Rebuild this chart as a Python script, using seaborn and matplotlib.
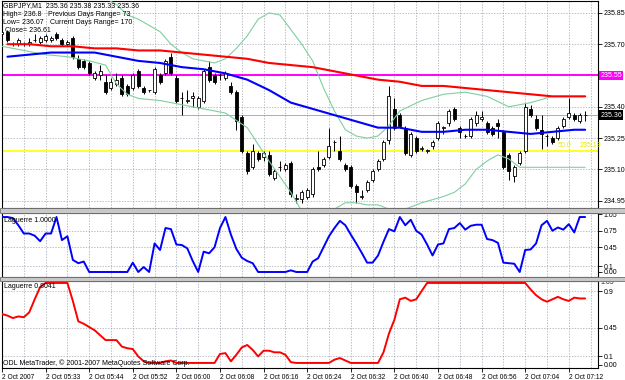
import numpy as np
import pandas as pd
import seaborn as sns
import matplotlib.pyplot as plt
from matplotlib.patches import Rectangle

sns.set_theme(style='white')
plt.rcParams['font.family'] = ['Liberation Sans', 'DejaVu Sans']

# GBPJPY M1 bars
opens = [
    235.75, 235.76, 235.70, 235.70, 235.70, 235.70, 235.72, 235.71, 235.72, 235.72,
    235.75, 235.72, 235.70, 235.73, 235.63, 235.62, 235.61, 235.54, 235.55, 235.52,
    235.49, 235.51, 235.54, 235.50, 235.49, 235.57, 235.49, 235.48, 235.47, 235.55,
    235.56, 235.64, 235.54, 235.44, 235.43, 235.44, 235.40, 235.43, 235.59, 235.55,
    235.55, 235.54, 235.50, 235.47, 235.35, 235.18, 235.11, 235.18, 235.16, 235.17,
    235.06, 235.11, 235.10, 235.13, 234.96, 234.96, 234.97, 234.98, 235.11, 235.12,
    235.16, 235.23, 235.19, 235.12, 235.11, 235.02, 234.97, 235.00, 235.05, 235.10,
    235.15, 235.24, 235.39, 235.36, 235.30, 235.17, 235.25, 235.20, 235.19, 235.21,
    235.25, 235.30, 235.32, 235.39, 235.30, 235.26, 235.26, 235.32, 235.34, 235.32,
    235.30, 235.32, 235.28, 235.17, 235.07, 235.13, 235.19, 235.39, 235.34, 235.29,
    235.26, 235.25, 235.25, 235.31, 235.35, 235.36, 235.33, 235.36]
highs = [
    235.77, 235.77, 235.71, 235.73, 235.71, 235.73, 235.75, 235.74, 235.75, 235.74,
    235.76, 235.73, 235.72, 235.74, 235.65, 235.63, 235.62, 235.57, 235.60, 235.55,
    235.54, 235.56, 235.55, 235.51, 235.56, 235.58, 235.50, 235.48, 235.59, 235.56,
    235.63, 235.66, 235.55, 235.47, 235.48, 235.47, 235.45, 235.58, 235.62, 235.56,
    235.56, 235.57, 235.52, 235.48, 235.36, 235.19, 235.22, 235.19, 235.19, 235.19,
    235.10, 235.14, 235.13, 235.14, 234.98, 235.00, 235.01, 235.11, 235.19, 235.16,
    235.30, 235.24, 235.26, 235.13, 235.12, 235.03, 235.00, 235.05, 235.10, 235.15,
    235.24, 235.50, 235.44, 235.37, 235.31, 235.28, 235.26, 235.21, 235.20, 235.24,
    235.33, 235.31, 235.39, 235.40, 235.31, 235.27, 235.35, 235.38, 235.38, 235.33,
    235.31, 235.34, 235.29, 235.18, 235.12, 235.19, 235.42, 235.41, 235.36, 235.36,
    235.27, 235.26, 235.31, 235.35, 235.44, 235.37, 235.37, 235.38]
lows = [
    235.74, 235.71, 235.69, 235.69, 235.69, 235.69, 235.71, 235.70, 235.71, 235.71,
    235.72, 235.69, 235.69, 235.63, 235.58, 235.58, 235.55, 235.53, 235.53, 235.46,
    235.48, 235.50, 235.45, 235.45, 235.48, 235.49, 235.46, 235.47, 235.46, 235.51,
    235.55, 235.55, 235.42, 235.36, 235.42, 235.40, 235.39, 235.42, 235.52, 235.51,
    235.53, 235.53, 235.46, 235.29, 235.18, 235.08, 235.10, 235.14, 235.14, 235.07,
    235.05, 235.09, 235.09, 234.97, 234.94, 234.94, 234.96, 234.97, 235.09, 235.11,
    235.15, 235.19, 235.14, 235.09, 235.01, 234.94, 234.96, 234.99, 235.04, 235.09,
    235.14, 235.22, 235.29, 235.30, 235.17, 235.16, 235.18, 235.19, 235.18, 235.20,
    235.24, 235.27, 235.31, 235.33, 235.25, 235.25, 235.25, 235.31, 235.33, 235.27,
    235.26, 235.25, 235.10, 235.05, 235.04, 235.12, 235.18, 235.35, 235.29, 235.20,
    235.21, 235.22, 235.24, 235.30, 235.34, 235.33, 235.32, 235.33]
closes = [
    235.76, 235.72, 235.70, 235.72, 235.70, 235.71, 235.72, 235.73, 235.74, 235.73,
    235.73, 235.70, 235.71, 235.64, 235.59, 235.59, 235.56, 235.56, 235.57, 235.47,
    235.52, 235.53, 235.46, 235.46, 235.55, 235.50, 235.47, 235.48, 235.58, 235.52,
    235.62, 235.56, 235.43, 235.44, 235.43, 235.45, 235.44, 235.57, 235.53, 235.52,
    235.55, 235.56, 235.47, 235.33, 235.19, 235.09, 235.19, 235.15, 235.18, 235.08,
    235.09, 235.11, 235.12, 234.98, 234.96, 234.99, 235.00, 235.10, 235.10, 235.15,
    235.21, 235.23, 235.15, 235.10, 235.02, 234.99, 234.97, 235.04, 235.09, 235.14,
    235.23, 235.45, 235.30, 235.31, 235.18, 235.27, 235.19, 235.20, 235.19, 235.23,
    235.32, 235.30, 235.38, 235.34, 235.28, 235.26, 235.34, 235.36, 235.35, 235.28,
    235.27, 235.31, 235.11, 235.09, 235.11, 235.18, 235.40, 235.36, 235.30, 235.27,
    235.26, 235.23, 235.30, 235.34, 235.37, 235.34, 235.36, 235.36]

# moving averages, read every fourth bar
ma_idx = [1, 5, 9, 13, 17, 21, 25, 29, 33, 37, 41, 45, 49, 53, 57, 61, 65, 69, 73,
          77, 81, 85, 89, 93, 97, 101, 105, 107]
ma_slow = [235.70, 235.70, 235.69, 235.69, 235.68, 235.68, 235.67, 235.67, 235.66,
           235.65, 235.64, 235.63, 235.61, 235.60, 235.59, 235.57, 235.55, 235.53,
           235.52, 235.50, 235.50, 235.49, 235.48, 235.47, 235.46, 235.45, 235.45, 235.45]
ma_fast = [235.64, 235.65, 235.66, 235.66, 235.66, 235.64, 235.62, 235.61, 235.59,
           235.58, 235.56, 235.53, 235.48, 235.42, 235.39, 235.36, 235.33, 235.30,
           235.30, 235.28, 235.28, 235.29, 235.29, 235.28, 235.27, 235.28, 235.29, 235.29]

# bollinger bands
bb_up_idx = [1, 5, 9, 13, 17, 21, 23, 25, 27, 29, 31, 33, 35, 37, 39, 41, 43, 45, 47,
             49, 51, 53, 55, 57, 59, 61, 63, 65, 67, 69, 71, 73, 77, 81, 85, 89, 93,
             97, 101, 105, 107]
bb_up = [236.01, 236.02, 236.01, 235.98, 235.95, 235.89, 235.84, 235.82, 235.79,
         235.76, 235.70, 235.66, 235.63, 235.62, 235.61, 235.63, 235.68, 235.74,
         235.82, 235.85, 235.84, 235.77, 235.70, 235.62, 235.49, 235.38, 235.29,
         235.26, 235.25, 235.26, 235.31, 235.38, 235.43, 235.46, 235.47, 235.45,
         235.40, 235.42, 235.45, 235.45, 235.45]
bb_lo_idx = [0, 4, 8, 12, 16, 19, 21, 23, 25, 29, 33, 37, 41, 45, 49, 53, 55, 57, 59,
             61, 63, 65, 67, 69, 71, 73, 75, 77, 81, 83, 85, 87, 89, 91, 93, 95, 97,
             101, 105, 107]
bb_lo = [235.69, 235.67, 235.65, 235.64, 235.62, 235.60, 235.51, 235.46, 235.44,
         235.43, 235.41, 235.39, 235.37, 235.30, 235.14, 234.99, 234.90, 234.85,
         234.87, 234.91, 234.94, 234.94, 234.93, 234.93, 234.91, 234.90, 234.92,
         234.94, 234.97, 234.99, 235.03, 235.10, 235.14, 235.17, 235.15, 235.11,
         235.11, 235.11, 235.11, 235.11]

# Laguerre indicators (one value per bar)
lag_blue = [
    1.0, 1.0, 0.98, 0.85, 0.70, 0.70, 0.66, 0.56, 0.70, 0.70,
    1.0, 0.58, 0.65, 0.22, 0.16, 0.19, 0.0, 0.0, 0.0, 0.0,
    0.0, 0.0, 0.0, 0.0, 0.17, 0.0, 0.09, 0.0, 0.52, 0.40,
    0.80, 0.78, 0.50, 0.49, 0.43, 0.20, 0.0, 0.37, 0.34, 0.45,
    0.80, 1.0, 0.68, 0.42, 0.26, 0.20, 0.16, 0.0, 0.0, 0.0,
    0.0, 0.0, 0.0, 0.03, 0.0, 0.0, 0.0, 0.19, 0.25, 0.45,
    0.65, 0.80, 0.93, 0.85, 0.68, 0.52, 0.35, 0.17, 0.17, 0.30,
    0.55, 0.78, 0.74, 1.0, 0.85, 0.95, 0.75, 0.68, 0.50, 0.30,
    0.50, 0.52, 0.78, 0.80, 0.89, 0.77, 0.84, 0.86, 0.86, 0.60,
    0.58, 0.53, 0.17, 0.16, 0.15, 0.0, 0.40, 0.41, 0.52, 0.85,
    0.93, 0.75, 0.81, 0.77, 0.87, 0.72, 1.0, 1.0]
lag_red = [
    0.62, 0.60, 0.57, 0.59, 0.58, 0.64, 0.80, 0.95, 1.0, 1.0,
    1.0, 1.0, 1.0, 0.78, 0.53, 0.50, 0.46, 0.42, 0.36, 0.30,
    0.30, 0.30, 0.22, 0.20, 0.19, 0.10, 0.04, 0.02, 0.02, 0.02,
    0.04, 0.05, 0.02, 0.02, 0.02, 0.02, 0.02, 0.02, 0.02, 0.02,
    0.13, 0.14, 0.04, 0.12, 0.21, 0.24, 0.18, 0.10, 0.17, 0.17,
    0.15, 0.15, 0.12, 0.03, 0.02, 0.02, 0.02, 0.02, 0.02, 0.02,
    0.02, 0.06, 0.08, 0.05, 0.02, 0.02, 0.02, 0.02, 0.02, 0.02,
    0.15, 0.38, 0.55, 0.80, 0.82, 0.78, 0.80, 0.90, 1.0, 1.0,
    1.0, 1.0, 1.0, 1.0, 1.0, 1.0, 1.0, 1.0, 1.0, 1.0,
    1.0, 1.0, 1.0, 1.0, 1.0, 1.0, 1.0, 0.92, 0.85, 0.80,
    0.77, 0.80, 0.83, 0.80, 0.78, 0.82, 0.81, 0.81]

time_labels = ['2 Oct 2007', '2 Oct 05:33', '2 Oct 05:44', '2 Oct 05:52',
               '2 Oct 06:00', '2 Oct 06:08', '2 Oct 06:16', '2 Oct 06:24',
               '2 Oct 06:32', '2 Oct 06:40', '2 Oct 06:48', '2 Oct 06:56',
               '2 Oct 07:04', '2 Oct 07:12']
price_ticks = [234.95, 235.10, 235.25, 235.40, 235.70, 235.85]
pivot_level = 235.55
fibo_level = 235.19
last_price = 235.36
blue_ticks = [0.0, 0.1, 0.45, 0.75, 1.05]
red_ticks = [0.0, 0.1, 0.45, 0.9]

W, H = 625, 380
fig = plt.figure(figsize=(W / 100, H / 100), dpi=100)
fig.patch.set_facecolor('white')


def rect(top, bottom, left=2, right=598):
    return [left / W, 1 - bottom / H, (right - left) / W, (bottom - top) / H]


ax = fig.add_axes(rect(1, 208))
ax1 = fig.add_axes(rect(213, 277), sharex=ax)
ax2 = fig.add_axes(rect(281, 368), sharex=ax)

# separators between windows
for top, bot in [(208, 213), (277, 281)]:
    fig.patches.append(Rectangle((0, 1 - bot / H), 1, (bot - top) / H,
                                 transform=fig.transFigure, facecolor='#c8c8c8',
                                 edgecolor='#707070', lw=0.6, zorder=0))

nbar = len(closes)
grid_kw = dict(color='#9fa3b0', lw=0.5, ls=(0, (2, 2)), zorder=0)
for a in (ax, ax1, ax2):
    a.set_facecolor('white')
    for s in a.spines.values():
        s.set_color('black')
        s.set_linewidth(0.8)
    for gx in range(4, nbar + 2, 4):
        a.axvline(gx, **grid_kw)
    a.tick_params(axis='y', which='both', right=True, left=False, labelright=True,
                  labelleft=False, length=3, width=0.6, pad=1, labelsize=5,
                  colors='black', direction='out')
    a.tick_params(axis='x', bottom=False, labelbottom=False)

# ---- main price window
bars = pd.DataFrame({'o': opens, 'h': highs, 'l': lows, 'c': closes})
bars['i'] = np.arange(nbar)
up = bars.c >= bars.o
for p in price_ticks + [pivot_level]:
    ax.axhline(p, **grid_kw)
ax.axhline(last_price, color='#a0a0a0', lw=0.6, zorder=1)
ax.axhline(pivot_level, color='#ff00ff', lw=1.4, zorder=2)
ax.axhline(fibo_level, color='#ffff00', lw=1.2, zorder=2)

ax.vlines(bars.i, bars.l, bars.h, color='black', lw=0.7, zorder=3)
ax.bar(bars.i, (bars.c - bars.o).abs().clip(lower=0.002),
       bottom=np.minimum(bars.o, bars.c), width=0.55,
       color=np.where(up, 'white', 'black'), edgecolor='black', lw=0.6, zorder=4)

sns.lineplot(x=bb_up_idx, y=bb_up, ax=ax, color='#7fcf9f', lw=0.8, zorder=5)
sns.lineplot(x=bb_lo_idx, y=bb_lo, ax=ax, color='#7fcf9f', lw=0.8, zorder=5)
sns.lineplot(x=ma_idx, y=ma_slow, ax=ax, color='#ff0000', lw=1.5, zorder=6)
sns.lineplot(x=ma_idx, y=ma_fast, ax=ax, color='#0000ff', lw=1.5, zorder=6)

ax.set_ylim(234.915, 235.907)
ax.set_xlim(0, 109.36)
ax.set_yticks(price_ticks)
ax.set_yticklabels([f'{p:.2f}' for p in price_ticks])
ytr = ax.get_yaxis_transform()
ax.text(1.004, pivot_level, f'{pivot_level:.2f}', transform=ytr, ha='left', va='center',
        fontsize=5, color='white', clip_on=False,
        bbox=dict(facecolor='#ff00ff', edgecolor='none', pad=0.9))
ax.text(1.004, last_price, f'{last_price:.2f}', transform=ytr, ha='left', va='center',
        fontsize=5, color='white', clip_on=False,
        bbox=dict(facecolor='black', edgecolor='none', pad=0.9))
ax.text(101.9, fibo_level + 0.008, '50.0', fontsize=5, color='#e8e800',
        ha='left', va='bottom', zorder=7)
ax.text(105.9, fibo_level + 0.008, f'{fibo_level:.2f}', fontsize=5, color='#e8e800',
        ha='left', va='bottom', zorder=7)

# ---- Laguerre windows
idx = np.arange(nbar)
for gy in blue_ticks[1:4]:
    ax1.axhline(gy, **grid_kw)
sns.lineplot(x=idx, y=lag_blue, ax=ax1, color='#0000ff', lw=1.4, zorder=5)
ax1.set_ylim(-0.091, 1.073)
ax1.set_yticks(blue_ticks)
ax1.set_yticklabels(['0.00', '0.1', '0.45', '0.75', '1.05'])

for gy in red_ticks[1:]:
    ax2.axhline(gy, **grid_kw)
sns.lineplot(x=idx, y=lag_red, ax=ax2, color='#ff0000', lw=1.4, zorder=5)
ax2.set_ylim(-0.042, 1.024)
ax2.set_yticks(red_ticks)
ax2.set_yticklabels(['0.00', '0.1', '0.45', '0.9'])
ax2.text(1.004, 1.0, '1.05', transform=ax2.get_yaxis_transform(), ha='left',
         va='center', fontsize=5, clip_on=False)

for a in (ax, ax1, ax2):
    a.set_xlabel('')
    a.set_ylabel('')

ax2.set_xticks(np.arange(0, nbar, 8))
ax2.set_xticklabels(time_labels, ha='left')
ax2.tick_params(axis='x', bottom=True, labelbottom=True, length=3, width=0.6,
                pad=1, labelsize=4.8, colors='black')


def ptext(x, y, s, **kw):
    fig.text(x / W, 1 - y / H, s, va='center', ha='left', fontsize=5, color='black', **kw)


ptext(3, 6, 'GBPJPY,M1  235.36 235.38 235.33 235.36')
ptext(3, 15, 'High= 236.8')
ptext(48, 15, 'Previous Days Range= 73')
ptext(3, 23, 'Low= 236.07')
ptext(50, 23, 'Current Days Range= 170')
ptext(5, 31, 'Close= 236.61')
ptext(4, 220, 'Laguerre 1.0000')
ptext(4, 286, 'Laguerre 0.8041')
ptext(3, 363, 'ODL MetaTrader, \u00a9 2001-2007 MetaQuotes Software Corp.')

fig.savefig('out.png', dpi=100)
